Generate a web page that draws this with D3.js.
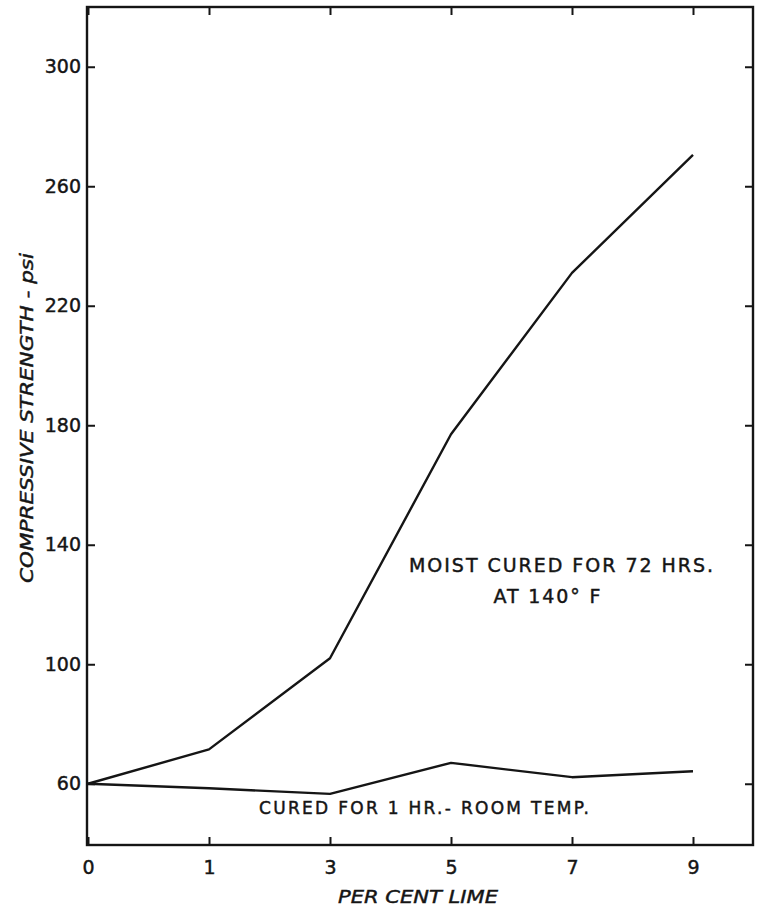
<!DOCTYPE html>
<html>
<head>
<meta charset="utf-8">
<script src="https://cdn.jsdelivr.net/npm/d3@7"></script>
<style>
  body { margin: 0; background: #fff; }
  text { font-family: "DejaVu Sans", sans-serif; fill: #151515; stroke: #151515; stroke-width: 0.45px; }
</style>
</head>
<body>
<div id="chart"></div>
<script>
const xLabels = ["0", "1", "3", "5", "7", "9"];
const roomTemp = [60, 58.5, 56.6, 67, 62.2, 64.2];
const moistCured = [60, 71.5, 102, 177, 231, 270.5];
const yTicks = [60, 100, 140, 180, 220, 260, 300];

function renderChart(containerId = "#chart") {
    const svgWidth = 759;
    const svgHeight = 909;
    const frame = { left: 87, right: 753, top: 7, bottom: 845 };

    const svg = d3.select(containerId)
        .append("svg")
        .attr("width", svgWidth)
        .attr("height", svgHeight);

    const x = d3.scalePoint()
        .domain(xLabels)
        .range([88, 693]);

    const y = d3.scaleLinear()
        .domain([39.5, 320])
        .range([frame.bottom, frame.top]);

    // frame
    svg.append("rect")
        .attr("x", frame.left)
        .attr("y", frame.top)
        .attr("width", frame.right - frame.left)
        .attr("height", frame.bottom - frame.top)
        .attr("fill", "none")
        .attr("stroke", "#151515")
        .attr("stroke-width", 2.4);

    // axes, ticks pointing inward
    const left = svg.append("g")
        .attr("transform", `translate(${frame.left},0)`)
        .call(d3.axisLeft(y).tickValues(yTicks).tickSizeInner(-8).tickSizeOuter(0).tickPadding(6));
    left.selectAll("text")
        .style("font-size", "19px")
        .style("font-family", "DejaVu Sans")
        .attr("fill", "#151515");

    svg.append("g")
        .attr("transform", `translate(${frame.right},0)`)
        .call(d3.axisRight(y).tickValues(yTicks).tickSizeInner(-8).tickSizeOuter(0).tickFormat(""));

    const bottom = svg.append("g")
        .attr("transform", `translate(0,${frame.bottom})`)
        .call(d3.axisBottom(x).tickSizeInner(-8).tickSizeOuter(0).tickPadding(16));
    bottom.selectAll("text")
        .style("font-size", "19px")
        .style("font-family", "DejaVu Sans")
        .attr("fill", "#151515");

    svg.append("g")
        .attr("transform", `translate(0,${frame.top})`)
        .call(d3.axisTop(x).tickSizeInner(-8).tickSizeOuter(0).tickFormat(""));

    svg.selectAll(".domain").remove();
    svg.selectAll(".tick line").attr("stroke", "#151515").attr("stroke-width", 2);

    // lines
    const line = d3.line()
        .x((d, i) => x(xLabels[i]))
        .y(d => y(d));

    [moistCured, roomTemp].forEach(series => {
        svg.append("path")
            .datum(series)
            .attr("d", line)
            .attr("fill", "none")
            .attr("stroke", "#151515")
            .attr("stroke-width", 2.4)
            .attr("stroke-linejoin", "round");
    });

    // labels
    svg.append("text")
        .attr("transform", "translate(33,418) rotate(-90)")
        .attr("text-anchor", "middle")
        .attr("textLength", 330)
        .attr("lengthAdjust", "spacingAndGlyphs")
        .style("font-size", "18px")
        .style("font-style", "italic")
        .text("COMPRESSIVE  STRENGTH - psi");

    svg.append("text")
        .attr("x", 418)
        .attr("y", 903)
        .attr("text-anchor", "middle")
        .attr("textLength", 160)
        .attr("lengthAdjust", "spacingAndGlyphs")
        .style("font-size", "18px")
        .style("font-style", "italic")
        .text("PER CENT LIME");

    svg.append("text")
        .attr("x", 561)
        .attr("y", 572)
        .attr("text-anchor", "middle")
        .attr("textLength", 304)
        .attr("lengthAdjust", "spacing")
        .style("font-size", "19px")
        .text("MOIST CURED FOR 72 HRS.");

    svg.append("text")
        .attr("x", 547)
        .attr("y", 603)
        .attr("text-anchor", "middle")
        .attr("textLength", 107)
        .attr("lengthAdjust", "spacing")
        .style("font-size", "19px")
        .text("AT 140° F");

    svg.append("text")
        .attr("x", 424)
        .attr("y", 814)
        .attr("text-anchor", "middle")
        .attr("textLength", 330)
        .attr("lengthAdjust", "spacing")
        .style("font-size", "17px")
        .text("CURED FOR 1 HR.- ROOM TEMP.");
}

renderChart();
</script>
</body>
</html>
